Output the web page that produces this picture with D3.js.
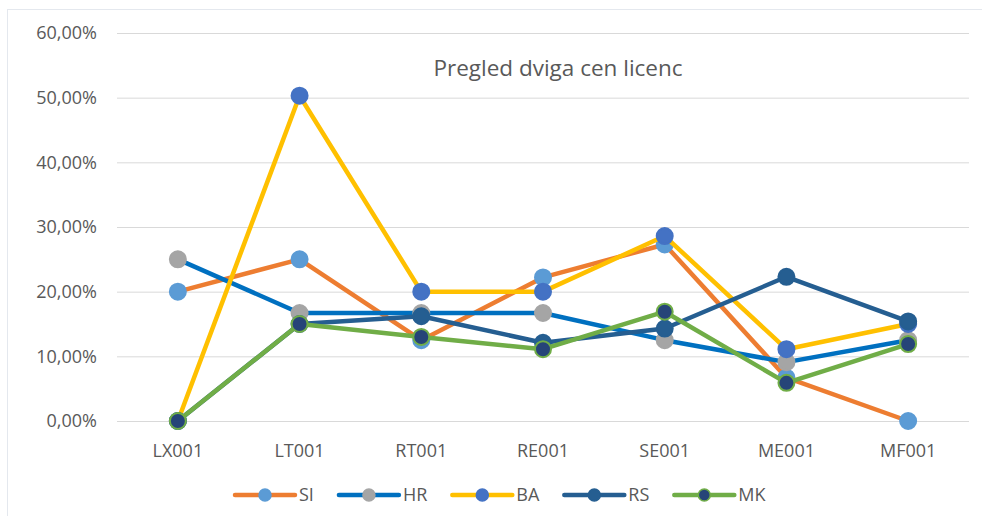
<!DOCTYPE html>
<html>
<head>
<meta charset="utf-8">
<script src="https://cdn.jsdelivr.net/npm/d3@7"></script>
<style>
  body { margin: 0; background: #fff; }
  text { font-family: "Open Sans", sans-serif; fill: #595959; }
</style>
</head>
<body>
<div id="chart"></div>
<script>
// categories and series values (percent)
const categories = ["LX001", "LT001", "RT001", "RE001", "SE001", "ME001", "MF001"];
const seriesNames = ["SI", "HR", "BA", "RS", "MK"];
const SI = [20.0, 25.0, 12.5, 22.2, 27.3, 6.7, 0];
const HR = [25.0, 16.7, 16.7, 16.7, 12.5, 9.1, 12.5];
const BA = [0, 50.3, 20.0, 20.0, 28.6, 11.1, 15.0];
const RS = [0, 15.0, 16.2, 12.1, 14.3, 22.3, 15.4];
const MK = [0, 15.0, 13.0, 11.1, 16.9, 5.9, 11.9];
const yTicks = [0, 10, 20, 30, 40, 50, 60];

const dims = { width: 982, height: 516, left: 117, right: 969, top: 33, bottom: 421 };
const styles = {
    SI: { line: "#ED7D31", marker: "#5B9BD5", stroke: "#5B9BD5" },
    HR: { line: "#0070C0", marker: "#A5A5A5", stroke: "#A5A5A5" },
    BA: { line: "#FFC000", marker: "#4472C4", stroke: "#4472C4" },
    RS: { line: "#255E91", marker: "#255E91", stroke: "#255E91" },
    MK: { line: "#70AD47", marker: "#264478", stroke: "#70AD47" }
};
const data = seriesNames.map((name, i) => ({ name, values: [SI, HR, BA, RS, MK][i] }));

const svg = d3.select("#chart").append("svg")
    .attr("width", dims.width)
    .attr("height", dims.height);

// chart border
svg.append("rect")
    .attr("x", 7.5).attr("y", 9.5)
    .attr("width", 990).attr("height", 520)
    .attr("fill", "none").attr("stroke", "#E4E8EE");

const x = d3.scaleBand().domain(categories).range([dims.left, dims.right]);
const y = d3.scaleLinear().domain([0, 60]).range([dims.bottom, dims.top]);

// grid lines
svg.append("g")
    .selectAll("line")
    .data(yTicks)
    .join("line")
    .attr("x1", dims.left).attr("x2", dims.right)
    .attr("y1", d => y(d) + 0.5).attr("y2", d => y(d) + 0.5)
    .attr("stroke", "#D9D9D9").attr("stroke-width", 1);

// y axis labels
const yAxis = svg.append("g")
    .attr("transform", `translate(${dims.left - 20},0)`)
    .call(d3.axisLeft(y).tickValues(yTicks).tickSize(0).tickFormat(d => d3.format(".2f")(d).replace(".", ",") + "%"));
yAxis.select(".domain").remove();
yAxis.selectAll("text").attr("font-size", 18).attr("font-family", null).attr("fill", "#595959").attr("x", 0);

// x axis labels
const xAxis = svg.append("g")
    .attr("transform", `translate(0,457)`)
    .call(d3.axisBottom(x).tickSize(0));
xAxis.select(".domain").remove();
xAxis.selectAll("text").attr("font-size", 18).attr("font-family", null).attr("fill", "#595959").attr("y", 0).attr("dy", 0);

// title
svg.append("text")
    .attr("x", 558).attr("y", 76)
    .attr("text-anchor", "middle")
    .attr("font-size", 22.5)
    .text("Pregled dviga cen licenc");

const cx = c => x(c) + x.bandwidth() / 2;
const line = d3.line().x((d, i) => cx(categories[i])).y(d => y(d));

const series = svg.append("g")
    .selectAll("g")
    .data(data)
    .join("g");

series.append("path")
    .attr("d", d => line(d.values))
    .attr("fill", "none")
    .attr("stroke", d => styles[d.name].line)
    .attr("stroke-width", 4.5)
    .attr("stroke-linejoin", "round")
    .attr("stroke-linecap", "round");

series.selectAll("circle")
    .data(d => d.values.map((v, i) => ({ name: d.name, v, c: categories[i] })))
    .join("circle")
    .attr("cx", d => cx(d.c))
    .attr("cy", d => y(d.v))
    .attr("r", 8)
    .attr("fill", d => styles[d.name].marker)
    .attr("stroke", d => styles[d.name].stroke)
    .attr("stroke-width", 2);

// legend
const legend = svg.append("g").attr("transform", "translate(233,495)");
let lx = 0;
seriesNames.forEach(name => {
    const g = legend.append("g").attr("transform", `translate(${lx},0)`);
    g.append("line")
        .attr("x1", 2).attr("x2", 62)
        .attr("stroke", styles[name].line)
        .attr("stroke-width", 4.5)
        .attr("stroke-linecap", "round");
    g.append("circle")
        .attr("cx", 32).attr("r", 6)
        .attr("fill", styles[name].marker)
        .attr("stroke", styles[name].stroke)
        .attr("stroke-width", 1.5);
    const t = g.append("text")
        .attr("x", 66).attr("dy", "0.35em")
        .attr("font-size", 18)
        .text(name);
    lx += 66 + t.node().getComputedTextLength() + 23;
});
</script>
</body>
</html>
